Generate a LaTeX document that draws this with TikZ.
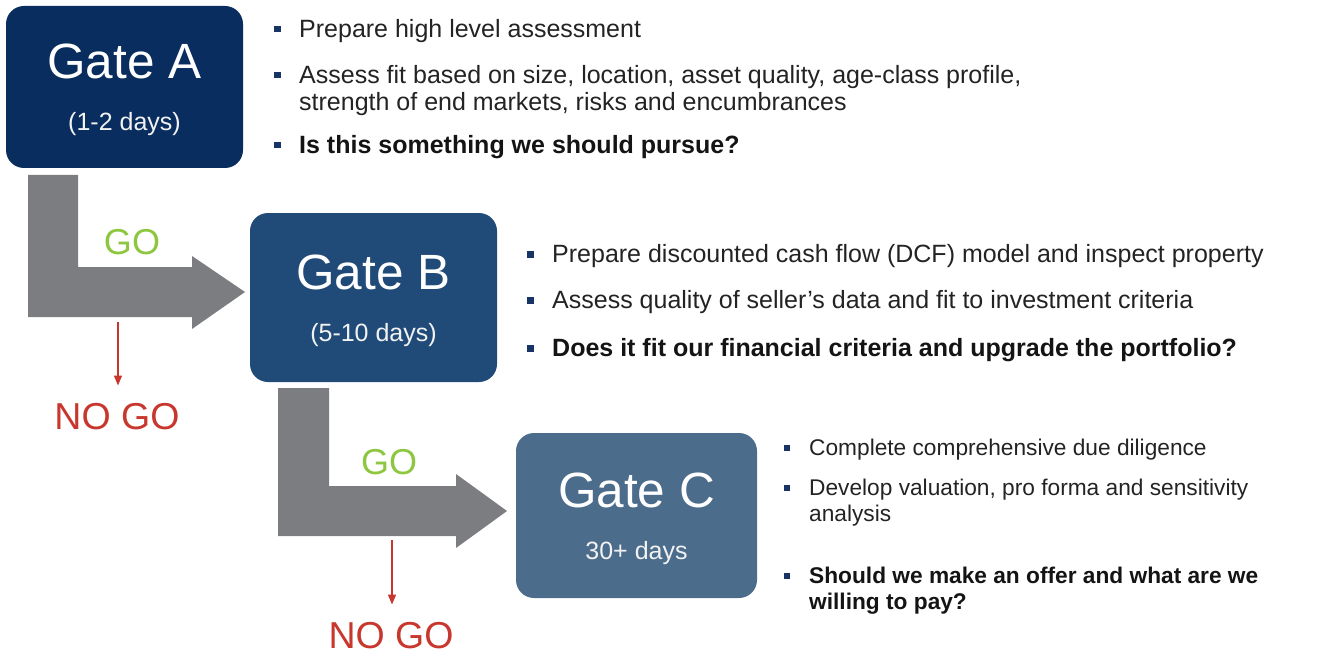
\documentclass[tikz,border=0pt]{standalone}
\usepackage{fontspec}
\setmainfont{Liberation Sans}
\usetikzlibrary{arrows.meta,positioning,calc}

\definecolor{gateAblue}{RGB}{9,45,94}
\definecolor{gateBblue}{RGB}{32,75,120}
\definecolor{gateCblue}{RGB}{76,108,140}
\definecolor{arrowgray}{RGB}{124,125,129}
\definecolor{gogreen}{RGB}{141,198,63}
\definecolor{nogored}{RGB}{200,55,45}
\definecolor{bulletblue}{RGB}{22,52,102}
\definecolor{textgray}{RGB}{35,35,35}

\tikzset{
    gate/.style={rounded corners=18pt, inner sep=0pt},
    gatetitle/.style={anchor=base, inner sep=0pt, text=white, font=\fontsize{49.5}{52}\selectfont},
    gatesub/.style={anchor=base, inner sep=0pt, text=white!90!gray, font=\fontsize{25}{27}\selectfont},
    goarrow/.style={fill=arrowgray},
    golabel/.style={inner sep=0pt, text=gogreen, font=\fontsize{36}{38}\selectfont},
    nogolabel/.style={inner sep=0pt, text=nogored, font=\fontsize{37.5}{40}\selectfont},
    nogoline/.style={draw=nogored, line width=1.6pt, shorten >=18pt, -{Triangle[length=10pt,width=8pt]}},
    item/.style={anchor=north west, inner sep=0pt, align=left, text=textgray, font=\fontsize{25}{27}\selectfont},
    keyitem/.style={item, text=black!92, font=\fontsize{25}{27}\selectfont\bfseries},
    smallitem/.style={item, font=\fontsize{22.7}{25.5}\selectfont},
    smallkeyitem/.style={item, text=black!92, font=\fontsize{22.7}{25.5}\selectfont\bfseries},
    bulletsq/.style={fill=bulletblue}
}

\begin{document}
\begin{tikzpicture}[x=1pt, y=-1pt]
    \useasboundingbox (0, 0) rectangle (1327, 655);

    % Gates
    \node[gate, fill=gateAblue, minimum width=237pt, minimum height=162pt] (gA) at (124.5, 87) {};
    \node[gate, fill=gateBblue, minimum width=247pt, minimum height=169pt] (gB) at (373.5, 297.5) {};
    \node[gate, fill=gateCblue, minimum width=241pt, minimum height=165pt] (gC) at (636.5, 515.5) {};

    \node[gatetitle] (gAt) at ([yshift=8pt]gA.center) {Gate A};
    \node[gatesub] (gAs) at ([yshift=-44pt]gA.center) {(1-2 days)};
    \node[gatetitle] (gBt) at ([yshift=8pt]gB.center) {Gate B};
    \node[gatesub] (gBs) at ([yshift=-44pt]gB.center) {(5-10 days)};
    \node[gatetitle] (gCt) at ([yshift=8pt]gC.center) {Gate C};
    \node[gatesub] (gCs) at ([yshift=-44pt]gC.center) {30+ days};

    % Bent GO arrows
    \fill[goarrow] (28, 175) -- (78, 175) -- (78, 267) -- (192, 267) -- (192, 256)
        -- (245, 292) -- (192, 329) -- (192, 317) -- (28, 317) -- cycle;
    \fill[goarrow] (278, 388) -- (329, 388) -- (329, 486) -- (456, 486) -- (456, 474)
        -- (507, 511) -- (456, 548) -- (456, 536) -- (278, 536) -- cycle;

    \node[golabel] (goA) at (132, 242) {GO};
    \node[golabel] (goB) at (389, 462) {GO};

    % NO GO exits
    \node[nogolabel] (nogoA) at (117, 417) {NO GO};
    \node[nogolabel] (nogoB) at (391, 636) {NO GO};
    \coordinate (cutA) at (118, 322);
    \coordinate (cutB) at (392, 540);
    \draw[nogoline] (cutA) -- (cutA |- nogoA.north);
    \draw[nogoline] (cutB) -- (cutB |- nogoB.north);

    % Gate A items
    \node[item] (a1) at (299, 18) {\strut Prepare high level assessment};
    \node[item] (a2) at (299, 64) {\strut Assess fit based on size, location, asset quality, age-class profile,\\
        strength of end markets, risks and encumbrances};
    \node[keyitem] (a3) at (299, 134) {\strut Is this something we should pursue?};

    % Gate B items
    \node[item] (b1) at (552, 243) {\strut Prepare discounted cash flow (DCF) model and inspect property};
    \node[item] (b2) at (552, 289) {\strut Assess quality of seller's data and fit to investment criteria};
    \node[keyitem] (b3) at (552, 337) {\strut Does it fit our financial criteria and upgrade the portfolio?};

    % Gate C items
    \node[smallitem] (c1) at (809, 437.5) {\strut Complete comprehensive due diligence};
    \node[smallitem] (c2) at (809, 477.5) {\strut Develop valuation, pro forma and sensitivity\\ analysis};
    \node[smallkeyitem] (c3) at (809, 565.5) {\strut Should we make an offer and what are we\\ willing to pay?};

    % Bullet squares
    \foreach \n in {a1, a2, a3, b1, b2, b3} {
        \fill[bulletsq] ([xshift=-25pt, yshift=-8pt]\n.north west) rectangle ++(6.5pt, -6.5pt);
    }
    \foreach \n in {c1, c2, c3} {
        \fill[bulletsq] ([xshift=-25pt, yshift=-7pt]\n.north west) rectangle ++(6pt, -6pt);
    }
\end{tikzpicture}
\end{document}
